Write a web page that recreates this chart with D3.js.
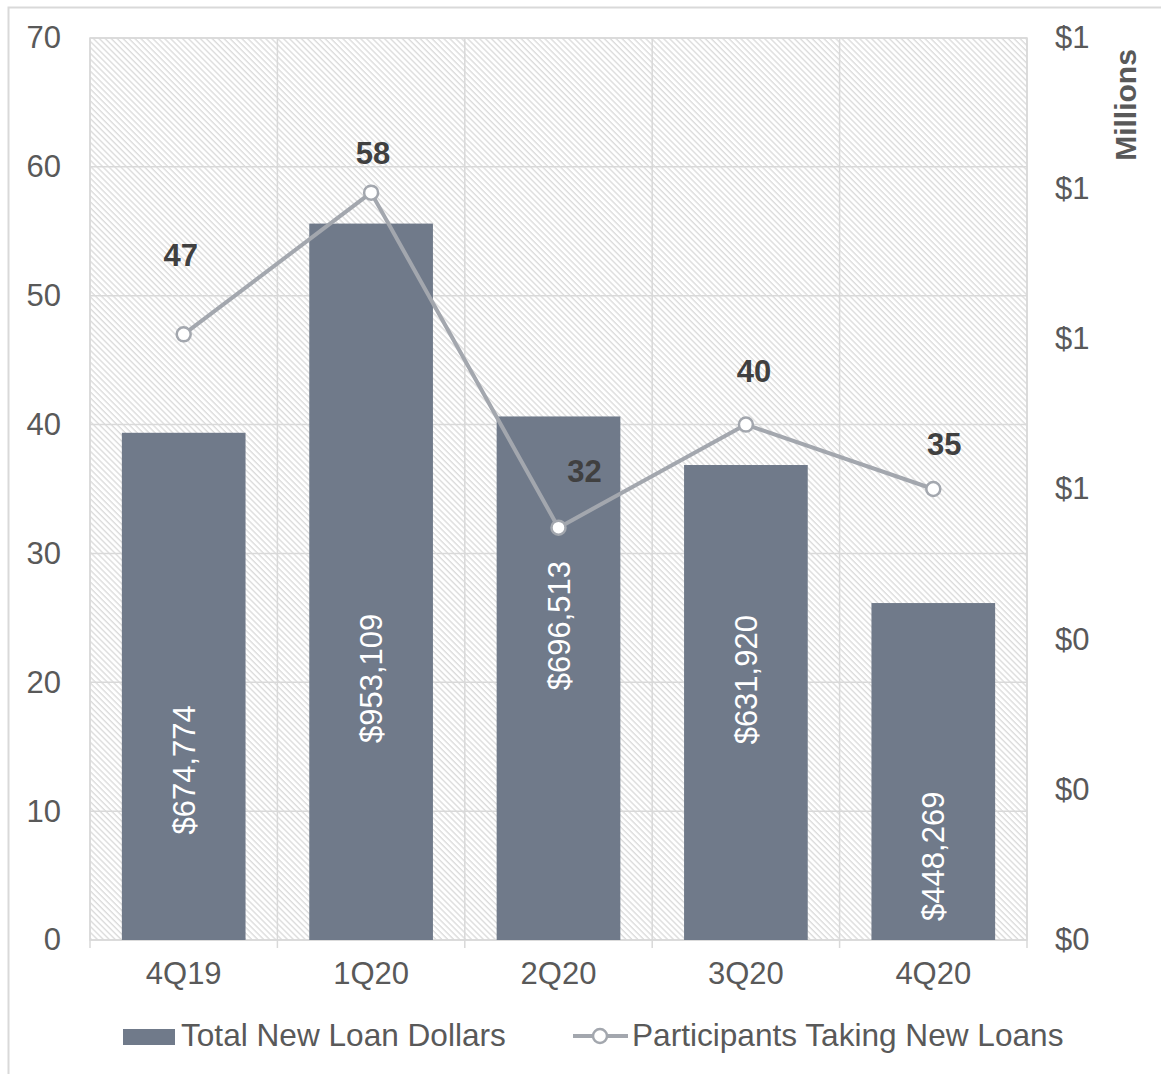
<!DOCTYPE html>
<html>
<head>
<meta charset="utf-8">
<script src="https://cdn.jsdelivr.net/npm/d3@7"></script>
<style>
  html, body { margin: 0; padding: 0; background: #fff; }
  svg { display: block; font-family: "Liberation Sans", Arial, sans-serif; }
</style>
</head>
<body>
<svg id="chart" width="1161" height="1074"></svg>
<script>
// ---- data ----
const categories = ["4Q19", "1Q20", "2Q20", "3Q20", "4Q20"];
const loanDollars = [674774, 953109, 696513, 631920, 448269];
const participants = [47, 58, 32, 40, 35];
const leftTicks = [0, 10, 20, 30, 40, 50, 60, 70];
const rightTicks = [0, 200000, 400000, 600000, 800000, 1000000, 1200000];
const seriesNames = ["Total New Loan Dollars", "Participants Taking New Loans"];
const rightAxisTitle = "Millions";

// ---- layout / style config ----
const plot = { left: 90, right: 1027, top: 38, bottom: 940 };
const barColor = "#707a8a";
const lineColor = "#a3a7ae";
const gridColor = "#d9d9d9";
const textColor = "#595959";
const labelColor = "#404040";
const fontSize = 31;
const legendFontSize = 31.6;
// where each bar's rotated label is centred (in left-axis units), as placed in the original
const barLabelCentre = [13.2, 20.3, 24.4, 20.2, 6.5];
// offsets of line data labels from their points (px)
const lineLabelOffset = [[-3, -79], [2, -40], [26, -57], [8, -54], [11, -45]];

const svg = d3.select("#chart");

// hatch pattern
const defs = svg.append("defs");
const pat = defs.append("pattern")
  .attr("id", "hatch").attr("patternUnits", "userSpaceOnUse")
  .attr("width", 4.2).attr("height", 4.2)
  .attr("patternTransform", "rotate(-45)");
pat.append("rect").attr("width", 4.2).attr("height", 4.2).attr("fill", "#ffffff");
pat.append("line").attr("x1", 1).attr("y1", 0).attr("x2", 1).attr("y2", 4.2)
  .attr("stroke", "#dcdcdc").attr("stroke-width", 1.4);

// chart border
svg.append("rect").attr("x", 8.5).attr("y", 7.5).attr("width", 1300).attr("height", 1300)
  .attr("fill", "none").attr("stroke", gridColor).attr("stroke-width", 2);

const x = d3.scaleBand().domain(categories).range([plot.left, plot.right])
  .paddingInner(0.34).paddingOuter(0.17);
const yL = d3.scaleLinear().domain([0, 70]).range([plot.bottom, plot.top]);
const yR = d3.scaleLinear().domain([0, 1200000]).range([plot.bottom, plot.top]);

// plot background
svg.append("rect").attr("x", plot.left).attr("y", plot.top)
  .attr("width", plot.right - plot.left).attr("height", plot.bottom - plot.top)
  .attr("fill", "url(#hatch)");

// horizontal gridlines
svg.append("g").selectAll("line").data(leftTicks).join("line")
  .attr("x1", plot.left).attr("x2", plot.right)
  .attr("y1", d => yL(d)).attr("y2", d => yL(d))
  .attr("stroke", gridColor).attr("stroke-width", 1.5);

// vertical gridlines at category boundaries (extend as tick marks)
const step = x.step();
const boundaries = d3.range(categories.length + 1).map(i => plot.left + i * step);
svg.append("g").selectAll("line").data(boundaries).join("line")
  .attr("x1", d => d).attr("x2", d => d)
  .attr("y1", plot.top).attr("y2", plot.bottom + 8)
  .attr("stroke", gridColor).attr("stroke-width", 1.5);

// plot border
svg.append("rect").attr("x", plot.left).attr("y", plot.top)
  .attr("width", plot.right - plot.left).attr("height", plot.bottom - plot.top)
  .attr("fill", "none").attr("stroke", gridColor).attr("stroke-width", 1.5);

// bars
svg.append("g").selectAll("rect").data(loanDollars).join("rect")
  .attr("x", (d, i) => x(categories[i]))
  .attr("width", x.bandwidth())
  .attr("y", d => yR(d))
  .attr("height", d => yR(0) - yR(d))
  .attr("fill", barColor);

// bar labels (rotated)
svg.append("g").selectAll("text").data(loanDollars).join("text")
  .attr("transform", (d, i) => `translate(${x(categories[i]) + x.bandwidth() / 2 + 11},${yL(barLabelCentre[i])}) rotate(-90)`)
  .attr("text-anchor", "middle")
  .attr("fill", "#ffffff")
  .attr("font-size", fontSize)
  .text(d => "$" + d3.format(",")(d));

// line
const line = d3.line()
  .x((d, i) => x(categories[i]) + x.bandwidth() / 2)
  .y(d => yL(d));
svg.append("path").datum(participants)
  .attr("d", line).attr("fill", "none")
  .attr("stroke", lineColor).attr("stroke-width", 4).attr("stroke-linejoin", "round");
svg.append("g").selectAll("circle").data(participants).join("circle")
  .attr("cx", (d, i) => x(categories[i]) + x.bandwidth() / 2)
  .attr("cy", d => yL(d))
  .attr("r", 7)
  .attr("fill", "#ffffff").attr("stroke", lineColor).attr("stroke-width", 2.5);

// line labels
svg.append("g").selectAll("text").data(participants).join("text")
  .attr("x", (d, i) => x(categories[i]) + x.bandwidth() / 2 + lineLabelOffset[i][0])
  .attr("y", (d, i) => yL(d) + lineLabelOffset[i][1] + 11)
  .attr("text-anchor", "middle")
  .attr("font-size", fontSize).attr("font-weight", "bold")
  .attr("fill", labelColor)
  .text(d => d);

// left axis
const gl = svg.append("g").attr("transform", `translate(${plot.left},0)`)
  .call(d3.axisLeft(yL).tickValues(leftTicks).tickSize(0).tickPadding(29));
gl.select(".domain").remove();
gl.selectAll("text").attr("font-size", fontSize).attr("fill", textColor)
  .attr("font-family", "Liberation Sans, Arial, sans-serif");

// right axis
const gr = svg.append("g").attr("transform", `translate(${plot.right},0)`)
  .call(d3.axisRight(yR).tickValues(rightTicks).tickSize(0).tickPadding(28)
    .tickFormat(d => "$" + Math.round(d / 1e6)));
gr.select(".domain").remove();
gr.selectAll("text").attr("font-size", fontSize).attr("fill", textColor)
  .attr("font-family", "Liberation Sans, Arial, sans-serif");

// right axis title
svg.append("text")
  .attr("transform", `translate(1136,${105}) rotate(-90)`)
  .attr("text-anchor", "middle")
  .attr("font-size", 30).attr("font-weight", "bold").attr("fill", textColor)
  .text(rightAxisTitle);

// bottom axis
const gb = svg.append("g").attr("transform", `translate(0,${plot.bottom})`)
  .call(d3.axisBottom(x).tickSize(0).tickPadding(22));
gb.select(".domain").remove();
gb.selectAll("text").attr("font-size", fontSize).attr("fill", textColor)
  .attr("font-family", "Liberation Sans, Arial, sans-serif");

// legend
const lg = svg.append("g");
lg.append("rect").attr("x", 123).attr("y", 1029).attr("width", 52).attr("height", 16).attr("fill", barColor);
lg.append("text").attr("x", 181).attr("y", 1046).attr("font-size", legendFontSize).attr("fill", textColor).text(seriesNames[0]);
lg.append("line").attr("x1", 573).attr("x2", 628).attr("y1", 1036).attr("y2", 1036)
  .attr("stroke", lineColor).attr("stroke-width", 4);
lg.append("circle").attr("cx", 600).attr("cy", 1036).attr("r", 7)
  .attr("fill", "#fff").attr("stroke", lineColor).attr("stroke-width", 2.5);
lg.append("text").attr("x", 632).attr("y", 1046).attr("font-size", legendFontSize).attr("fill", textColor).text(seriesNames[1]);
</script>
</body>
</html>
